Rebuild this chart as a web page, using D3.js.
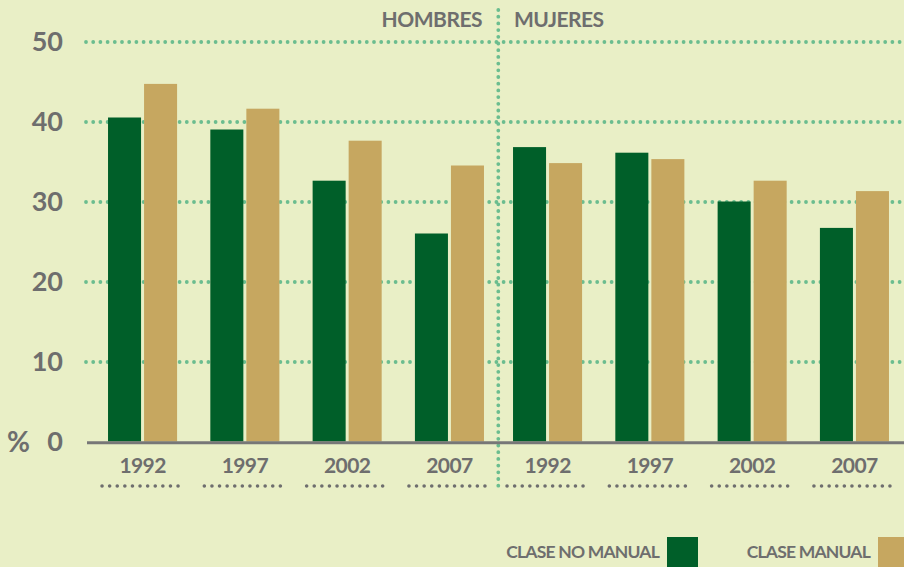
<!DOCTYPE html>
<html>
<head>
<meta charset="utf-8">
<script src="https://cdn.jsdelivr.net/npm/d3@7"></script>
<style>
  body { margin: 0; background: #e9efc6; }
  text { font-family: Lato, "Open Sans", sans-serif; font-weight: bold; fill: #6e6e6e; }
</style>
</head>
<body>
<svg></svg>
<script>
var years = ["1992", "1997", "2002", "2007"];
var groups = ["HOMBRES", "MUJERES"];
var series = ["CLASE NO MANUAL", "CLASE MANUAL"];
// hombres first, then mujeres
var noManual = [40.5, 39.0, 32.6, 26.0, 36.8, 36.1, 30.0, 26.7];
var manual = [44.7, 41.6, 37.6, 34.5, 34.8, 35.3, 32.6, 31.3];
var yTicks = [0, 10, 20, 30, 40, 50];

var screen = {width: 904, height: 567};
var colors = {nm: "#005f29", m: "#c6a760", grid: "#6bbd8f", text: "#6e6e6e", bg: "#e9efc6"};

var svg = d3.select("svg")
    .attr("width", screen.width)
    .attr("height", screen.height);

svg.append("rect")
    .attr("width", screen.width)
    .attr("height", screen.height)
    .attr("fill", colors.bg);

var yScale = d3.scaleLinear()
    .domain([0, 50])
    .range([441.5, 41.5]);

// one band scale per half (hombres / mujeres)
var halfRanges = [[91.4, 500.6], [496.4, 905.6]];
var xScales = halfRanges.map(function(r) {
    return d3.scaleBand()
        .domain(years)
        .range(r)
        .paddingInner(0.325)
        .paddingOuter(0.1625);
});

var inner = d3.scaleBand()
    .domain(["nm", "m"])
    .range([0, xScales[0].bandwidth()])
    .paddingInner(0.0833);

// dotted grid
var grid = svg.append("g")
    .attr("transform", "translate(86,0)")
    .call(d3.axisLeft(yScale)
        .tickValues(yTicks.filter(function(d) { return d > 0; }))
        .tickSize(-(screen.width - 86))
        .tickFormat(""));
grid.select(".domain").remove();
grid.selectAll(".tick line")
    .attr("stroke", colors.grid)
    .attr("stroke-width", 3.8)
    .attr("stroke-linecap", "round")
    .attr("stroke-dasharray", "0,7.2");

// y labels
var yAxis = svg.append("g")
    .attr("transform", "translate(86,0)")
    .call(d3.axisLeft(yScale)
        .tickValues(yTicks)
        .tickSize(0)
        .tickPadding(23));
yAxis.select(".domain").remove();
yAxis.selectAll("text")
    .attr("font-size", 27)
    .attr("fill", colors.text)
    .style("font-family", "Lato, sans-serif");

svg.append("text")
    .attr("x", 7)
    .attr("y", 442)
    .attr("dy", "0.36em")
    .attr("font-size", 28)
    .text("%");

// vertical divider
svg.append("line")
    .attr("x1", 498.3).attr("x2", 498.3)
    .attr("y1", 10).attr("y2", 488)
    .attr("stroke", colors.grid)
    .attr("stroke-width", 3.8)
    .attr("stroke-linecap", "round")
    .attr("stroke-dasharray", "0,6.7");

// bars
var rows = [];
groups.forEach(function(g, gi) {
    years.forEach(function(y, yi) {
        var i = gi * years.length + yi;
        rows.push({half: gi, year: y, key: "nm", value: noManual[i]});
        rows.push({half: gi, year: y, key: "m", value: manual[i]});
    });
});

svg.append("g")
    .selectAll("rect")
    .data(rows)
    .enter()
    .append("rect")
    .attr("x", function(d) { return xScales[d.half](d.year) + inner(d.key); })
    .attr("y", function(d) { return yScale(d.value); })
    .attr("width", inner.bandwidth())
    .attr("height", function(d) { return yScale(0) - yScale(d.value); })
    .attr("fill", function(d) { return colors[d.key]; });

// baseline
svg.append("line")
    .attr("x1", 87).attr("x2", screen.width)
    .attr("y1", yScale(0) + 1.3).attr("y2", yScale(0) + 1.3)
    .attr("stroke", "#777777")
    .attr("stroke-width", 3);

// year labels + dotted underline
xScales.forEach(function(xs) {
    var ax = svg.append("g")
        .attr("transform", "translate(0," + yScale(0) + ")")
        .call(d3.axisBottom(xs).tickSize(0).tickPadding(17));
    ax.select(".domain").remove();
    ax.selectAll("text")
        .attr("font-size", 21)
        .attr("fill", colors.text)
        .attr("letter-spacing", -0.6)
        .style("font-family", "Lato, sans-serif");

    svg.append("g")
        .selectAll("line")
        .data(years)
        .enter()
        .append("line")
        .attr("x1", function(d) { return xs(d) + xs.bandwidth() / 2 - 40.5; })
        .attr("x2", function(d) { return xs(d) + xs.bandwidth() / 2 + 40.5; })
        .attr("y1", 486).attr("y2", 486)
        .attr("stroke", colors.text)
        .attr("stroke-width", 3.6)
        .attr("stroke-linecap", "round")
        .attr("stroke-dasharray", "0,7.6");
});

// group titles
svg.append("text")
    .attr("x", 482).attr("y", 27)
    .attr("text-anchor", "end")
    .attr("font-size", 21)
    .attr("letter-spacing", -0.5)
    .text(groups[0]);
svg.append("text")
    .attr("x", 514).attr("y", 27)
    .attr("font-size", 21)
    .attr("letter-spacing", -0.5)
    .text(groups[1]);

// legend
var legendPos = [{tx: 659, rx: 667, key: "nm"}, {tx: 870, rx: 878, key: "m"}];
var legend = svg.append("g")
    .selectAll("g")
    .data(series)
    .enter()
    .append("g");
legend.append("text")
    .attr("x", function(d, i) { return legendPos[i].tx; })
    .attr("y", 558)
    .attr("text-anchor", "end")
    .attr("font-size", 17.5)
    .attr("letter-spacing", -0.8)
    .text(function(d) { return d; });
legend.append("rect")
    .attr("x", function(d, i) { return legendPos[i].rx; })
    .attr("y", 537)
    .attr("width", 31)
    .attr("height", 31)
    .attr("fill", function(d, i) { return colors[legendPos[i].key]; });
</script>
</body>
</html>
